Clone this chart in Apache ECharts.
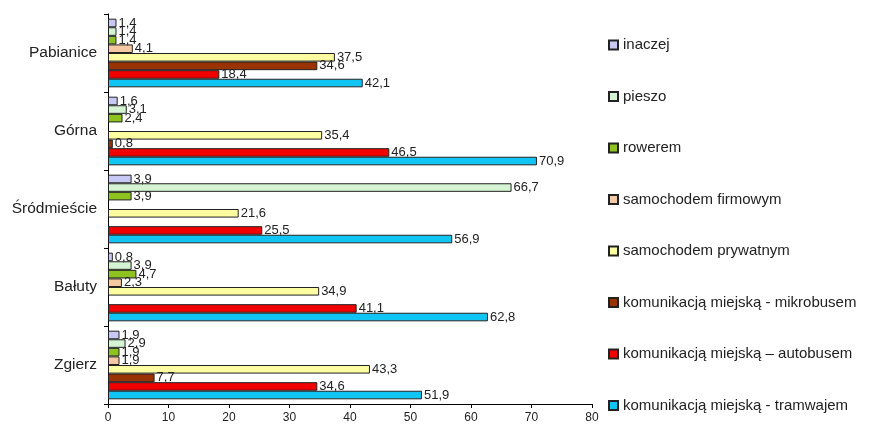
<!DOCTYPE html>
<html>
<head>
<meta charset="utf-8">
<script src="https://cdn.jsdelivr.net/npm/echarts@6/dist/echarts.min.js"></script>
<style>
  html, body { margin: 0; padding: 0; background: #fff; }
  #chart { width: 870px; height: 427px; }
</style>
</head>
<body>
<div id="chart"></div>
<script>
// districts, top to bottom
const districts = ['Pabianice', 'Górna', 'Śródmieście', 'Bałuty', 'Zgierz']
const modes = [
  'inaczej',
  'pieszo',
  'rowerem',
  'samochodem firmowym',
  'samochodem prywatnym',
  'komunikacją miejską - mikrobusem',
  'komunikacją miejską – autobusem',
  'komunikacją miejską - tramwajem'
]
const colors = ['#C8C8F4', '#D4F4D4', '#8DC21F', '#F4C8A0', '#FCFCA0', '#993300', '#F00000', '#10C4F4']

// values per mode, in district order (null = no bar)
const inaczej = [1.4, 1.6, 3.9, 0.8, 1.9]
const pieszo = [1.4, 3.1, 66.7, 3.9, 2.9]
const rowerem = [1.4, 2.4, 3.9, 4.7, 1.9]
const firmowym = [4.1, null, null, 2.3, 1.9]
const prywatnym = [37.5, 35.4, 21.6, 34.9, 43.3]
const mikrobusem = [34.6, 0.8, null, null, 7.7]
const autobusem = [18.4, 46.5, 25.5, 41.1, 34.6]
const tramwajem = [42.1, 70.9, 56.9, 62.8, 51.9]
const values = [inaczej, pieszo, rowerem, firmowym, prywatnym, mikrobusem, autobusem, tramwajem]

const xTicks = [0, 10, 20, 30, 40, 50, 60, 70, 80]

const font = 'Arial, "Liberation Sans", sans-serif'

const chart = echarts.init(document.getElementById('chart'))
const option = {
  animation: false,
  backgroundColor: '#fff',
  grid: { left: 108, right: 278, top: 14, bottom: 23 },
  legend: {
    orient: 'vertical',
    left: 603,
    top: 32,
    itemWidth: 9,
    itemHeight: 9,
    itemGap: 35.5,
    icon: 'rect',
    textStyle: { fontFamily: font, fontSize: 15, color: '#222', lineHeight: 16 },
    data: modes
  },
  xAxis: {
    type: 'value',
    min: xTicks[0],
    max: xTicks[xTicks.length - 1],
    interval: 10,
    splitLine: { show: false },
    axisLine: { show: true, lineStyle: { color: '#000' } },
    axisTick: { show: true, length: 4, lineStyle: { color: '#000' } },
    axisLabel: { fontFamily: font, fontSize: 12, color: '#222', margin: 8 }
  },
  yAxis: {
    type: 'category',
    inverse: true,
    data: districts,
    axisLine: { show: true, lineStyle: { color: '#000' } },
    axisTick: { show: true, length: 4, lineStyle: { color: '#000' } },
    axisLabel: { fontFamily: font, fontSize: 15.5, color: '#222', margin: 11 }
  },
  series: modes.map((name, i) => ({
    name: name,
    type: 'bar',
    data: values[i],
    barGap: '0%',
    barCategoryGap: '12%',
    itemStyle: { color: colors[i], borderColor: '#222', borderWidth: 1 },
    label: {
      show: true,
      position: 'right',
      distance: 2,
      fontFamily: font,
      fontSize: 13,
      color: '#222',
      formatter: p => p.value.toFixed(1).replace('.', ',')
    }
  }))
}
chart.setOption(option)
window.addEventListener('resize', () => { chart.resize() })
</script>
</body>
</html>
